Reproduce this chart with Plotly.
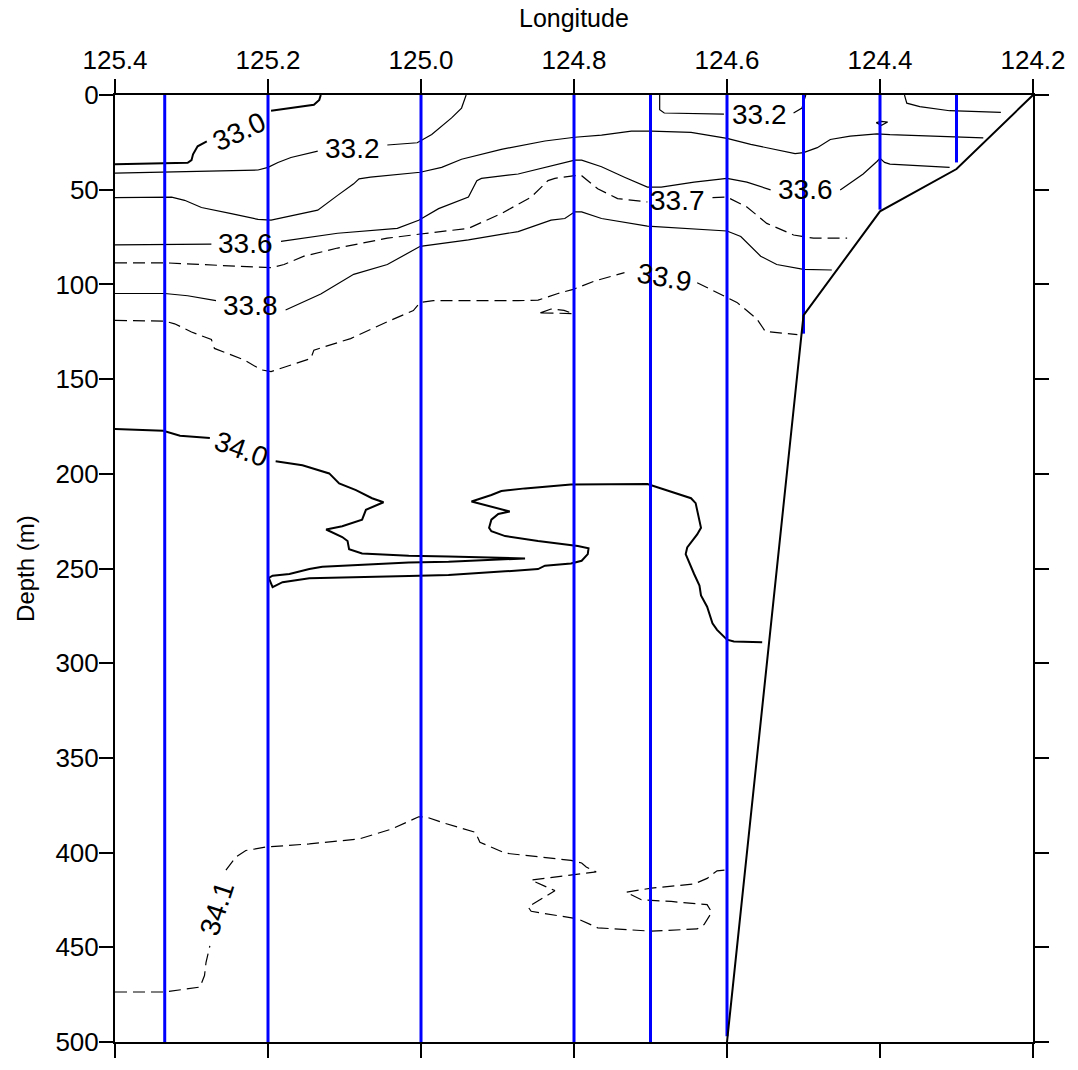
import plotly.graph_objects as go

FONT = "Liberation Sans, Arial, sans-serif"

# Station longitudes (deg E) and the deepest sample at each station (m)
station_lon = [125.335, 125.2, 125.0, 124.8, 124.7, 124.6, 124.5, 124.4, 124.3]
station_bottom = [500, 500, 500, 500, 500, 497, 126, 60.5, 35.6]

# Sea-floor profile along the section
bottom_lon = [124.2, 124.3, 124.4, 124.5, 124.6]
bottom_depth = [0, 39.1, 61.4, 116.4, 500]

# Salinity isolines (lon, depth); None breaks a line where its label sits
s330_lon = [125.4, 125.305, 125.300, 125.298, 125.292, 125.280, None,
            125.196, 125.140, 125.133, 125.131]
s330_dep = [36.5, 35.8, 34.4, 31.3, 27.1, 24.5, None, 8.3, 5.2, 2.6, 0]

s332_lon = [125.4, 125.213, 125.200, 125.187, 125.170, 125.135, None,
            125.044, 125.005, 124.986, 124.973, 124.960, 124.947, 124.942, 124.941,
            None, 124.688, 124.688, 124.682, 124.604, None,
            124.513, 124.502, 124.499, 124.497]
s332_dep = [41.2, 39.6, 38.2, 35.6, 33.0, 29.6, None,
            26.4, 25.2, 20.9, 16.5, 12.1, 6.9, 1.7, 0,
            None, 0, 7.8, 9.5, 10.1, None,
            9.5, 6.9, 2.6, 0]

s333_lon = [124.368, 124.365, 124.348, 124.309, 124.242,
            None, 124.405, 124.398, 124.390, 124.398, 124.405]
s333_dep = [0, 4.3, 6.1, 8.3, 9.2,
            None, 14.6, 13.9, 14.3, 16.0, 14.6]

s334_lon = [125.4, 125.326, 125.309, 125.287, 125.248, 125.213, 125.196, 125.170,
            125.135, 125.109, 125.088, 125.081, 125.066, 125.001, 124.973, 124.947,
            124.895, 124.838, 124.799, 124.764, 124.725, 124.699, 124.647, 124.600,
            124.569, 124.511, 124.500, 124.482, 124.465, 124.439, 124.404, 124.387,
            124.300, 124.265]
s334_dep = [54.2, 53.9, 55.6, 59.4, 62.6, 65.7, 66.1, 64.0,
            60.8, 53.0, 46.9, 44.3, 43.4, 40.8, 38.2, 33.9,
            28.7, 24.3, 22.3, 21.2, 19.1, 19.1, 19.7, 22.9,
            26.1, 30.9, 30.4, 27.8, 23.5, 21.7, 20.5, 20.9,
            22.3, 22.6]

s336_lon = [125.4, 125.274, None, 125.183, 125.109, 125.031, 125.003, 124.977,
            124.938, 124.927, 124.921, 124.873, 124.830, 124.799, 124.790, 124.764,
            124.734, 124.704, 124.686, 124.643, 124.600, 124.574, 124.543, None,
            124.452, 124.422, 124.404, 124.400, 124.394, 124.387, 124.309]
s336_dep = [79.1, 78.7, None, 77.3, 73.0, 70.4, 66.1, 60.0,
            53.9, 45.2, 44.0, 41.7, 37.4, 34.4, 34.4, 37.9,
            43.4, 48.6, 48.6, 46.0, 44.0, 46.0, 50.1, None,
            50.1, 41.7, 35.1, 33.4, 35.6, 36.5, 38.2]

s337_lon = [125.4, 125.335, 125.261, 125.196, 125.179, 125.153, 125.109, 125.044,
            125.001, 124.938, 124.895, 124.856, 124.834, 124.825, 124.799, 124.790,
            124.769, 124.743, 124.704, None, 124.619, 124.600, 124.574, 124.548,
            124.513, 124.487, 124.443]
s337_dep = [88.6, 88.6, 90.0, 91.2, 89.5, 85.1, 80.8, 75.6,
            73.4, 70.4, 62.6, 53.9, 45.2, 44.0, 42.6, 42.6,
            49.5, 54.7, 56.5, None, 54.2, 53.9, 59.1, 67.8,
            73.9, 75.6, 75.6]

s338_lon = [125.4, 125.335, 125.305, 125.268, None, 125.177, 125.131, 125.088,
            125.044, 125.001, 124.938, 124.873, 124.830, 124.812, 124.799, 124.790,
            124.764, 124.704, 124.656, 124.600, 124.582, 124.556, 124.535, 124.500,
            124.463]
s338_dep = [104.8, 104.8, 106.0, 108.6, None, 113.5, 105.1, 94.7,
            89.5, 79.9, 76.5, 72.1, 66.1, 65.2, 61.7, 61.7,
            65.2, 69.2, 70.4, 71.8, 74.7, 85.1, 89.5, 92.1,
            92.4]

s339_lon = [125.4, 125.335, 125.322, 125.300, 125.274, 125.270, 125.231, 125.209,
            125.196, 125.144, 125.140, 125.092, 125.040, 125.010, 125.001, 124.984,
            124.873, 124.847, 124.821, 124.801, 124.773, 124.734, None,
            124.639, 124.613, 124.587, 124.561, 124.550, 124.508,
            None, 124.844, 124.830, 124.813, 124.801, 124.821, 124.844]
s339_dep = [119.0, 119.4, 120.8, 125.1, 129.1, 133.8, 139.9, 145.1,
            146.0, 139.1, 134.7, 128.6, 119.0, 113.8, 109.5, 108.6,
            108.6, 108.3, 104.8, 102.6, 98.2, 93.8, None,
            99.1, 104.3, 109.5, 118.2, 124.8, 126.5,
            None, 115.0, 113.0, 113.7, 115.5, 115.2, 115.0]

s340_lon = [125.4, 125.337, 125.315, 125.276, None, 125.190, 125.155, 125.120,
            125.107, 125.085, 125.064, 125.049, 125.072, 125.077, 125.103, 125.124,
            125.103, 125.096, 125.094, 125.077, 125.016, 124.964, 124.864, 124.964,
            125.016, 125.129, 125.146, 125.172, 125.194, 125.199, 125.194, 125.181,
            125.146, 125.016, 124.964, 124.890, 124.847, 124.838, 124.825, 124.804,
            124.790, 124.782, 124.781, 124.795, 124.847, 124.890, 124.908, 124.911,
            124.908, 124.899, 124.884, 124.934, 124.908, 124.895, 124.864, 124.804,
            124.704, 124.682, 124.647, 124.641, 124.634, 124.639, 124.652, 124.654,
            124.647, 124.643, 124.636, 124.634, 124.626, 124.619, 124.613, 124.600,
            124.591, 124.554]
s340_dep = [176.4, 177.3, 179.9, 181.1, None, 193.4, 195.5, 199.8,
            205.1, 208.6, 212.9, 215.0, 219.0, 224.2, 227.7, 229.4,
            233.4, 235.5, 239.8, 242.1, 243.3, 243.6, 244.7, 246.4,
            246.8, 249.1, 250.3, 252.9, 253.8, 255.0, 259.8, 257.2,
            255.1, 253.9, 253.4, 251.5, 250.3, 248.5, 248.0, 247.3,
            245.9, 242.4, 239.3, 238.1, 235.5, 232.9, 230.3, 228.5,
            224.2, 221.2, 219.9, 214.6, 211.2, 209.1, 207.7, 205.6,
            205.4, 208.2, 212.9, 215.5, 228.5, 232.0, 238.9, 242.4,
            249.4, 252.9, 259.0, 264.2, 270.2, 278.9, 282.4, 287.6,
            288.5, 289.0]

s341_lon = [125.4, 125.335, 125.289, 125.283, 125.281, 125.276, None,
            125.255, 125.242, 125.229, 125.203, 125.146, 125.081, 125.038, 125.003,
            124.994, 124.968, 124.929, 124.923, 124.890, 124.804, 124.790, 124.784,
            124.771, 124.856, 124.825, 124.860, 124.856, 124.795, 124.769, 124.699,
            124.639, 124.630, 124.620, 124.626, 124.673, 124.712, 124.732, 124.699,
            124.643, 124.626, 124.613, 124.596]
s341_dep = [473.6, 473.6, 471.0, 464.9, 457.9, 449.3, None,
            409.3, 402.3, 398.9, 397.1, 395.4, 392.8, 387.5, 381.1,
            381.1, 384.6, 389.3, 394.5, 400.3, 404.1, 405.5, 407.6,
            410.2, 414.5, 420.1, 428.7, 431.0, 435.0, 439.7, 441.5,
            440.3, 438.0, 431.5, 427.5, 425.8, 424.9, 420.9, 418.8,
            416.6, 413.6, 409.6, 408.9]

# Isoline labels
label_text = ["33.0", "33.2", "33.2", "33.6", "33.6", "33.7", "33.8", "33.9", "34.0", "34.1"]
label_lon = [125.237, 125.089, 124.558, 125.229, 124.498, 124.665, 125.223, 124.682, 125.234, 125.267]
label_dep = [19.3, 28.3, 10.4, 78.2, 50.1, 55.9, 111.2, 96.5, 187.2, 429.3]
label_angle = [-25, 0, 0, 0, 0, 0, 0, 10, 20, -72]

# Axis ticks
lon_ticks = [125.4, 125.2, 125.0, 124.8, 124.6, 124.4, 124.2]
depth_ticks = [0, 50, 100, 150, 200, 250, 300, 350, 400, 450, 500]

fig = go.Figure()

isolines = [
    (s330_lon, s330_dep, 2.0, "solid"),
    (s332_lon, s332_dep, 1.2, "solid"),
    (s333_lon, s333_dep, 1.2, "solid"),
    (s334_lon, s334_dep, 1.2, "solid"),
    (s336_lon, s336_dep, 1.2, "solid"),
    (s337_lon, s337_dep, 1.2, "12px,6px"),
    (s338_lon, s338_dep, 1.2, "solid"),
    (s339_lon, s339_dep, 1.2, "12px,6px"),
    (s340_lon, s340_dep, 2.0, "solid"),
    (s341_lon, s341_dep, 1.2, "12px,6px"),
]
for xs, ys, w, dash in isolines:
    fig.add_trace(go.Scatter(x=xs, y=ys, mode="lines", connectgaps=False,
                             line=dict(color="black", width=w, dash=dash),
                             hoverinfo="skip", showlegend=False))

# Station casts
cast_x, cast_y = [], []
for lon, zmax in zip(station_lon, station_bottom):
    cast_x += [lon, lon, None]
    cast_y += [0, zmax, None]
fig.add_trace(go.Scatter(x=cast_x, y=cast_y, mode="lines",
                         line=dict(color="#0000ff", width=3),
                         hoverinfo="skip", showlegend=False))

# Sea floor
fig.add_trace(go.Scatter(x=bottom_lon, y=bottom_depth, mode="lines",
                         line=dict(color="black", width=2),
                         hoverinfo="skip", showlegend=False))

for t, x, y, a in zip(label_text, label_lon, label_dep, label_angle):
    fig.add_annotation(x=x, y=y, xref="x", yref="y", text=t, showarrow=False,
                       textangle=a, font=dict(family=FONT, size=28, color="black"))

fig.add_annotation(x=0.5, y=1.081, xref="paper", yref="paper", text="Longitude",
                   xanchor="center", yanchor="middle", showarrow=False,
                   font=dict(family=FONT, size=25, color="black"))
fig.add_annotation(x=-0.0976, y=0.5, xref="paper", yref="paper", text="Depth (m)",
                   xanchor="center", yanchor="middle", textangle=-90, showarrow=False,
                   font=dict(family=FONT, size=24, color="black"))

fig.update_layout(
    width=1078, height=1070, autosize=False,
    margin=dict(l=115, r=41, t=95, b=16),
    paper_bgcolor="white", plot_bgcolor="white",
    font=dict(family=FONT, color="black"),
    xaxis=dict(range=[125.4, 124.2], side="top", tickvals=lon_ticks, tickformat=".1f",
               ticks="outside", ticklen=14, tickwidth=1.5, tickcolor="black",
               showline=True, linecolor="black", linewidth=2, mirror="ticks",
               showgrid=False, zeroline=False, tickfont=dict(size=26)),
    yaxis=dict(range=[500, 0], tickvals=depth_ticks, ticklabelstandoff=-5,
               ticks="outside", ticklen=14, tickwidth=1.5, tickcolor="black",
               showline=True, linecolor="black", linewidth=2, mirror="ticks",
               showgrid=False, zeroline=False, tickfont=dict(size=26)),
)

fig.write_html("out.html")
